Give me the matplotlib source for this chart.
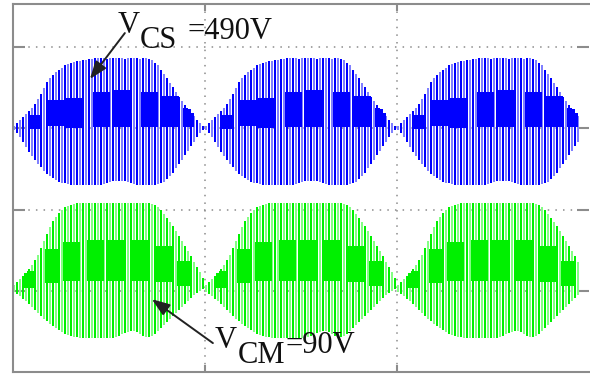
import numpy as np
import matplotlib.pyplot as plt

# envelope of one hump, read per switching stroke (scope pixels, 81.5 px = 1 div)
blue_top = [2, 5, 8, 11, 14, 17, 20, 24, 29, 34, 40, 46, 50, 53, 56, 58, 60, 63, 64, 66, 67, 68, 68, 69, 69, 70,
            70, 71, 71, 71, 71, 70, 71, 71, 71, 71, 71, 70, 71, 71, 71, 71, 70, 71, 71, 70,
            69, 66, 63, 58, 54, 50, 45, 41, 36, 31, 27, 23, 19, 15, 12, 8, 5, 2]
blue_bot = [2, 5, 9, 14, 19, 24, 28, 32, 36, 39, 43, 46, 48, 50, 52, 54, 55, 55, 56,
            57, 57, 57, 57, 57, 57, 57, 57, 57, 57, 57,
            56, 55, 54, 53, 53, 53, 53, 53, 54, 55, 56,
            57, 57, 57, 57, 57, 57, 57,
            56, 55, 54, 51, 48, 45, 40, 36, 32, 27, 23, 18, 14, 9, 5, 2]
green_top = [6, 9, 12, 15, 18, 22, 26, 31, 36, 43, 50, 57, 64, 70, 74, 78, 81, 84, 85, 86, 87,
             88, 88, 88, 88, 88, 88, 88, 88, 88, 88, 88, 88, 88, 88, 88, 88, 88, 88, 88, 88, 88, 88, 88, 88, 88,
             87, 86, 84, 81, 77, 73, 69, 65, 60, 55, 50, 45, 40, 35, 29, 24, 19, 13]
green_bot = [1, 3, 5, 8, 10, 13, 16, 19, 22, 25, 28, 30, 33, 35, 37, 39, 41, 43, 44, 45, 46, 46,
             47, 47, 47, 47, 47, 47, 47, 47, 47, 47, 47, 47,
             46, 45, 43, 42, 41, 40, 40, 41, 43, 45, 46, 46,
             45, 43, 40, 37, 34, 31, 28, 25, 22, 19, 16, 13, 10, 7, 4, 2, 0, -2]

# dense (dark) bands: first stroke, number of strokes, band low/high
blue_blob_start = [6, 12, 18, 27, 34, 43, 50, 57]
blue_blob_len = [3, 5, 5, 5, 5, 5, 5, 3]
blue_blob_lo = [0, 3, 1, 2, 2, 2, 2, 2]
blue_blob_hi = [13, 28, 30, 36, 38, 36, 32, 20]
green_blob_start = [4, 11, 17, 25, 32, 40, 48, 55]
green_blob_len = [3, 4, 5, 5, 5, 5, 5, 4]
green_blob_lo = [4, 9, 11, 11, 11, 11, 10, 6]
green_blob_hi = [20, 42, 49, 51, 51, 51, 45, 30]

strokes_per_hump = 64
humps = [64, 64, 61]  # last hump is cut off by the screen
PX_DIV = 81.5


def draw_channel(ax, zero, top, bot, b_start, b_len, b_lo, b_hi, light, dark):
    top = np.array(top) / PX_DIV
    bot = np.array(bot) / PX_DIV
    for h, n in enumerate(humps):
        idx = np.arange(n)
        t = h + (idx + 0.5) / strokes_per_hump
        ax.vlines(t, zero - bot[idx], zero + top[idx], colors=light, lw=1.44, antialiased=False)
        odd = idx[idx % 2 == 1]
        ax.vlines(h + (odd + 0.5) / strokes_per_hump, zero - bot[odd], zero + top[odd],
                  colors=dark, lw=1.44, antialiased=False)
        for s, m, lo, hi in zip(b_start, b_len, b_lo, b_hi):
            bi = np.arange(s, s + m)
            bi = bi[bi < n]
            ymax = np.minimum(hi / PX_DIV, top[bi])
            ax.vlines(h + (bi + 0.5) / strokes_per_hump, zero + lo / PX_DIV, zero + ymax,
                      colors=dark, lw=2.2, antialiased=False)


fig = plt.figure(figsize=(5.9, 3.76), dpi=100)
ax = fig.add_axes([13 / 590, 4 / 376, 575.5 / 590, 368 / 376])
ax.set_xlim(0, 3)
ax.set_ylim(0, 4.53)

grid_c = '#8c8c8c'
for gx in [1, 2]:
    ax.axvline(gx, color=grid_c, lw=1.1, ls=(0, (1, 4)), zorder=0)
for gy in [1, 2, 3, 4]:
    ax.axhline(gy, color=grid_c, lw=1.1, ls=(0, (1, 4)), zorder=0)

draw_channel(ax, 3.0, blue_top, blue_bot, blue_blob_start, blue_blob_len,
             blue_blob_lo, blue_blob_hi, '#8080ff', '#0000ff')
draw_channel(ax, 1.0, green_top, green_bot, green_blob_start, green_blob_len,
             green_blob_lo, green_blob_hi, '#84ff84', '#00f000')

ax.set_xticks([1, 2])
ax.set_yticks([1, 2, 3, 4])
ax.tick_params(axis='y', direction='in', length=8.5, width=1.5, color=grid_c,
               left=True, right=True, labelleft=False)
ax.tick_params(axis='x', direction='in', length=5, width=1.5, color=grid_c,
               top=True, bottom=True, labelbottom=False)
for side in ['left', 'bottom', 'top']:
    ax.spines[side].set_color(grid_c)
    ax.spines[side].set_linewidth(1.5)
ax.spines['right'].set_visible(False)

font = dict(family='Liberation Serif', size=22, color='#111111', va='baseline', ha='left')
ax.text(0.547, 4.17, 'V', **font)
ax.text(0.66, 3.99, 'CS', **font)
ax.text(0.91, 4.10, '=490V', **font)
ax.text(1.052, 0.294, 'V', **font)
ax.text(1.172, 0.11, 'CM', **font)
ax.text(1.42, 0.233, '=90V', **font)

arrow = dict(arrowstyle='-|>,head_length=0.6,head_width=0.22', color='#222222', lw=1.4,
             mutation_scale=18, shrinkA=0, shrinkB=0)
ax.annotate('', xy=(0.401, 3.607), xytext=(0.583, 4.172), arrowprops=arrow)
ax.annotate('', xy=(0.724, 0.896), xytext=(1.042, 0.356), arrowprops=arrow)

fig.savefig('out.png', dpi=100)
